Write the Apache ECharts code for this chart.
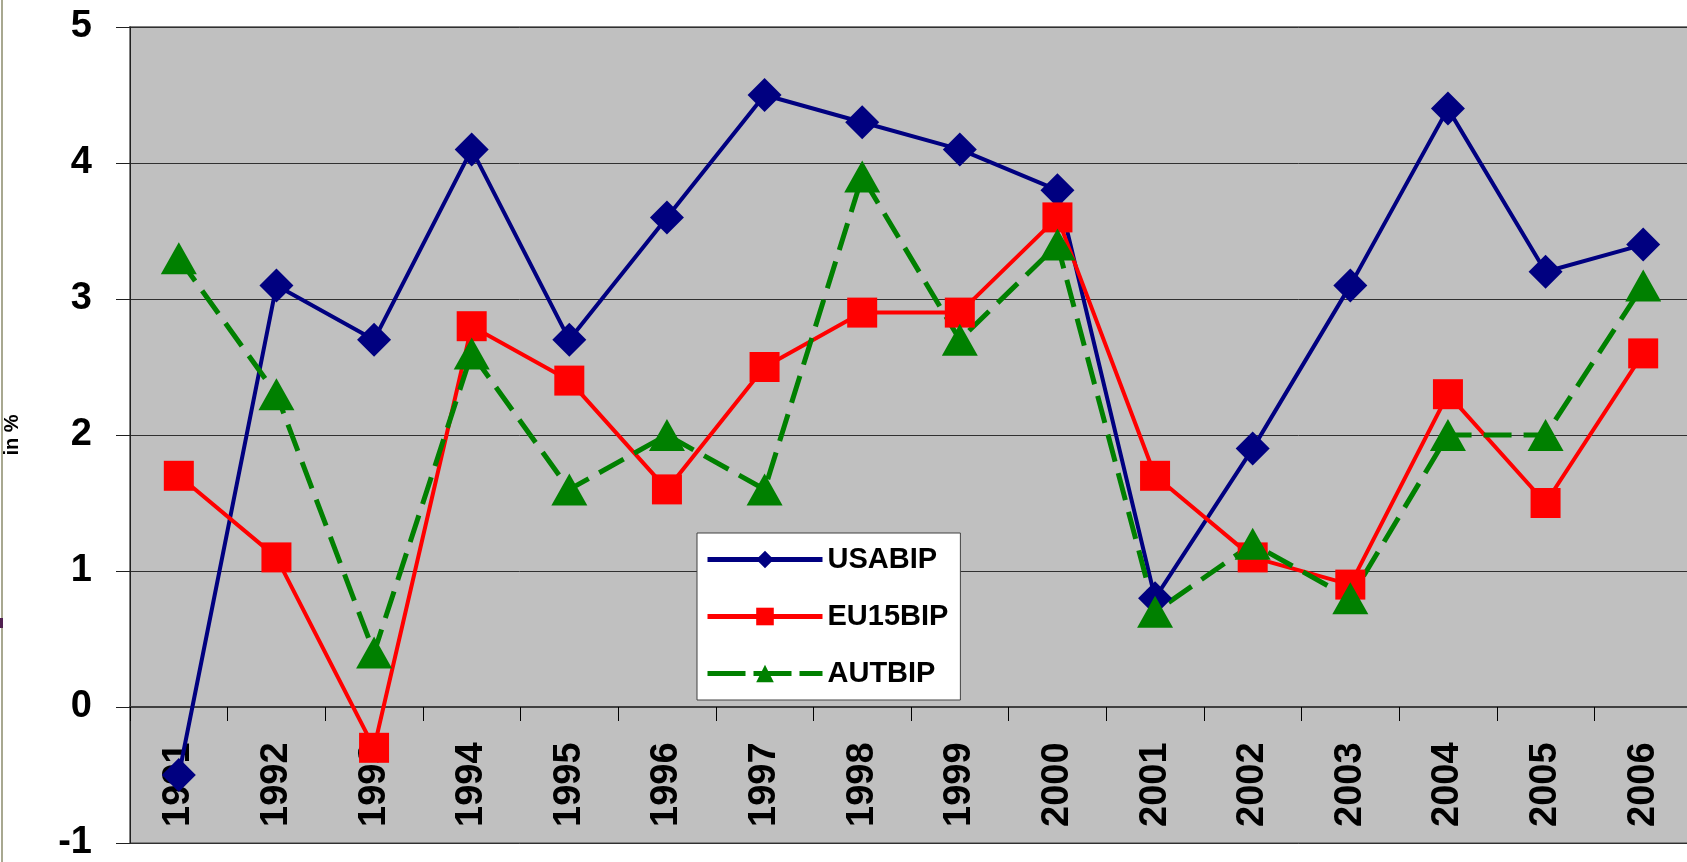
<!DOCTYPE html>
<html>
<head>
<meta charset="utf-8">
<script src="https://cdn.jsdelivr.net/npm/echarts@6/dist/echarts.min.js"></script>
<style>
  html, body { margin: 0; padding: 0; background: #fff; }
  #chart { width: 1687px; height: 862px; }
</style>
</head>
<body>
<div id="chart"></div>
<script>
var years = ['1991', '1992', '1993', '1994', '1995', '1996', '1997', '1998',
  '1999', '2000', '2001', '2002', '2003', '2004', '2005', '2006']
var usaBip = [-0.5, 3.1, 2.7, 4.1, 2.7, 3.6, 4.5, 4.3, 4.1, 3.8, 0.8, 1.9, 3.1, 4.4, 3.2, 3.4]
var eu15Bip = [1.7, 1.1, -0.3, 2.8, 2.4, 1.6, 2.5, 2.9, 2.9, 3.6, 1.7, 1.1, 0.9, 2.3, 1.5, 2.6]
var autBip = [3.3, 2.3, 0.4, 2.6, 1.6, 2.0, 1.6, 3.9, 2.7, 3.4, 0.7, 1.2, 0.8, 2.0, 2.0, 3.1]

var font = '"Liberation Sans", Arial, sans-serif'
var myChart = echarts.init(document.getElementById('chart'))

myChart.setOption({
  animation: false,
  textStyle: { fontFamily: font },
  graphic: [
    { type: 'rect', left: 1, top: 0, shape: { width: 2, height: 862 }, style: { fill: '#a8a890' } },
    { type: 'rect', left: 0, top: 618, shape: { width: 3, height: 10 }, style: { fill: '#502050' } }
  ],
  grid: {
    left: 130,
    top: 27,
    right: -5,
    bottom: 19,
    outerBoundsMode: 'none',
    containLabel: false,
    show: true,
    backgroundColor: '#C0C0C0',
    borderColor: '#808080',
    borderWidth: 2
  },
  legend: {
    orient: 'vertical',
    left: 697,
    top: 533,
    width: 257,
    backgroundColor: '#fff',
    borderColor: '#404040',
    borderWidth: 1,
    padding: [12, 12, 12, 8],
    itemWidth: 115,
    itemHeight: 22,
    itemGap: 28,
    textStyle: {
      fontFamily: font,
      fontWeight: 'bold',
      fontSize: 29,
      color: '#000'
    },
    data: [
      { name: 'USABIP', lineStyle: { width: 5 } },
      { name: 'EU15BIP', lineStyle: { width: 5 } },
      { name: 'AUTBIP', lineStyle: { width: 5, type: [38, 8] } }
    ]
  },
  xAxis: {
    type: 'category',
    data: years,
    axisLine: { onZero: true, lineStyle: { color: '#404040', width: 2 } },
    axisTick: { show: true, length: 14, lineStyle: { color: '#000', width: 1 } },
    axisLabel: {
      inside: true,
      rotate: 90,
      margin: 16,
      color: '#000',
      fontFamily: font,
      fontWeight: 'bold',
      fontSize: 38
    },
    splitLine: { show: false }
  },
  yAxis: {
    type: 'value',
    min: -1,
    max: 5,
    interval: 1,
    name: 'in %',
    nameLocation: 'middle',
    nameGap: 108,
    nameRotate: 90,
    nameTextStyle: { fontFamily: font, fontWeight: 'bold', fontSize: 20, color: '#000' },
    axisLine: { show: true, lineStyle: { color: '#202020', width: 1 } },
    axisTick: { show: true, length: 14, lineStyle: { color: '#202020' } },
    axisLabel: {
      margin: 38,
      color: '#000',
      fontFamily: font,
      fontWeight: 'bold',
      fontSize: 38
    },
    splitLine: { show: true, lineStyle: { color: '#303030', width: 1 } }
  },
  series: [
    {
      name: 'USABIP',
      type: 'line',
      data: usaBip,
      color: '#000080',
      symbol: 'diamond',
      symbolSize: 34,
      lineStyle: { width: 4, color: '#000080' },
      itemStyle: { color: '#000080' }
    },
    {
      name: 'EU15BIP',
      type: 'line',
      data: eu15Bip,
      color: '#FF0000',
      symbol: 'rect',
      symbolSize: 30,
      lineStyle: { width: 4, color: '#FF0000' },
      itemStyle: { color: '#FF0000' }
    },
    {
      name: 'AUTBIP',
      type: 'line',
      data: autBip,
      color: '#008000',
      symbol: 'triangle',
      symbolSize: [36, 32],
      lineStyle: { width: 5, color: '#008000', type: [28, 12] },
      itemStyle: { color: '#008000' }
    }
  ]
})
</script>
</body>
</html>
